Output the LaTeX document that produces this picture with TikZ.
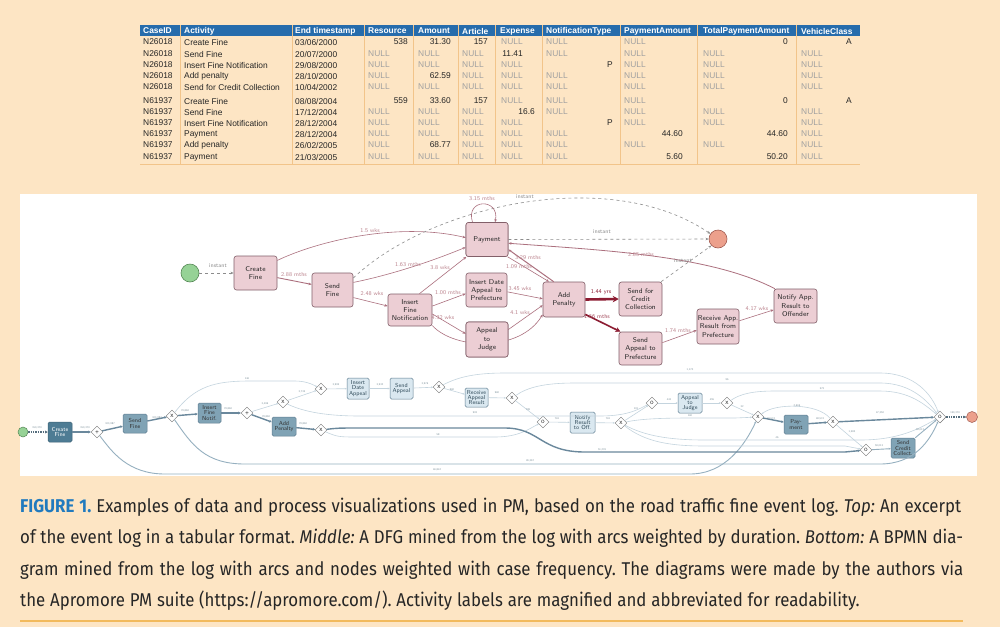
\documentclass[tikz,border=0pt]{standalone}
\usepackage{fontspec}
\usetikzlibrary{arrows.meta,shapes.geometric}
\newfontfamily\tabfont{Liberation Sans}
\newfontfamily\capfont[FakeStretch=0.91]{Fira Sans}
\definecolor{bgc}{RGB}{253,229,196}
\definecolor{hdr}{RGB}{38,108,172}
\definecolor{sepc}{RGB}{242,196,138}
\definecolor{nullc}{RGB}{160,160,160}
\definecolor{dfill}{RGB}{236,206,212}
\definecolor{ddraw}{RGB}{130,95,105}
\definecolor{dedge}{RGB}{172,112,126}
\definecolor{dlab}{RGB}{188,132,142}
\definecolor{dred}{RGB}{140,28,50}
\definecolor{instc}{RGB}{140,140,140}
\definecolor{gfill}{RGB}{150,210,150}
\definecolor{gdraw}{RGB}{85,135,85}
\definecolor{efill}{RGB}{236,160,140}
\definecolor{edraw}{RGB}{160,90,80}
\definecolor{bdark}{RGB}{78,124,148}
\definecolor{bmedc}{RGB}{128,163,181}
\definecolor{blight}{RGB}{218,232,240}
\definecolor{bborder}{RGB}{95,125,145}
\definecolor{bthinc}{RGB}{196,212,222}
\definecolor{bmedl}{RGB}{150,176,192}
\definecolor{bthkc}{RGB}{106,136,156}
\definecolor{blab}{RGB}{125,145,155}
\definecolor{capblue}{RGB}{33,122,190}
\definecolor{capc}{RGB}{38,38,38}
\definecolor{rulec}{RGB}{242,186,92}
\def\nullmark{N}
\newcommand\tcell[4]{\def\tmpc{#4}\ifx\tmpc\nullmark\node[tn,anchor=west] at (#2,#3) {NULL};\else\node[tc,anchor=east] at (#1,#3) {#4};\fi}
\newcommand\trowA[4]{\node[tc,anchor=west] at (143,#1) {#2};\node[tc,anchor=west] at (184,#1) {#3};\node[tc,anchor=west] at (295,#1) {#4};}
\newcommand\trowB[9]{\tcell{408}{368}{#1}{#2}\tcell{451}{418}{#1}{#3}\tcell{488}{462}{#1}{#4}\tcell{535}{501}{#1}{#5}\tcell{613}{546}{#1}{#6}\tcell{683}{624}{#1}{#7}\tcell{788}{703}{#1}{#8}\tcell{852}{801}{#1}{#9}}
\newcommand\capline[2]{\hbox to #1{\frenchspacing\spaceskip=.26em plus .3em minus .09em #2}}
\tikzset{
  tc/.style={font=\tabfont\fontsize{8.4}{9}\selectfont, text=black!85, inner sep=0pt},
  tn/.style={font=\tabfont\fontsize{8.4}{9}\selectfont, text=nullc, inner sep=0pt},
  th/.style={font=\tabfont\bfseries\fontsize{8.4}{9}\selectfont, text=white, inner sep=0pt, anchor=west},
  dn/.style={draw=ddraw, fill=dfill, rounded corners=2.5pt, inner sep=0pt, align=center, font=\sffamily\fontsize{7}{8.4}\selectfont, text=black!85, line width=0.6pt},
  de/.style={draw=dedge, line width=0.6pt, -{Stealth[length=3.2pt,width=2.6pt]}},
  dedash/.style={draw=instc, line width=0.6pt, dashed, -{Stealth[length=3.2pt,width=2.6pt]}},
  dthick/.style={draw=dred, -{Stealth[length=5pt,width=5pt]}},
  dl/.style={font=\sffamily\fontsize{5.8}{6}\selectfont, text=dlab, inner sep=0pt},
  il/.style={font=\sffamily\fontsize{5.8}{6}\selectfont, text=instc, inner sep=0pt},
  bnode/.style={rounded corners=1.5pt, inner sep=0pt, align=center, font=\sffamily\fontsize{5.8}{5.4}\selectfont, line width=0.5pt},
  bdk/.style={bnode, fill=bdark, draw=bdark!80!black, text=white},
  bmd/.style={bnode, fill=bmedc, draw=bborder, text={black!80}},
  blt/.style={bnode, fill=blight, draw=bborder, text={bdark!60!black}},
  gw/.style={diamond, draw=black!55, fill=white, minimum size=12pt, inner sep=0pt, line width=0.45pt, font=\sffamily\fontsize{4.6}{5}\selectfont},
  bthin/.style={draw=bthinc, line width=0.6pt, -{Stealth[length=2pt,width=1.8pt]}},
  bmed/.style={draw=bmedl, line width=0.9pt, -{Stealth[length=2.2pt,width=2pt]}},
  bthk/.style={draw=bthkc, line width=1.4pt, -{Stealth[length=2.6pt,width=2.6pt]}},
  bdot/.style={draw=bthkc!80!black, line width=1.4pt, densely dotted, -{Stealth[length=2.6pt,width=2.6pt]}},
  bl/.style={font=\sffamily\fontsize{2.7}{3}\selectfont, text=blab, inner sep=0pt},
  captxt/.style={font=\capfont\fontsize{18.5}{20}\selectfont, text=capc, inner sep=0pt, anchor=west}
}
\begin{document}
\begin{tikzpicture}[x=1pt,y=-1pt]
\useasboundingbox (0,0) rectangle (1000,627);
\fill[bgc] (0,0) rectangle (1000,627);
% ---------------- table ----------------
\fill[hdr] (140,25) rectangle (860,36);
\foreach \sx in {180,292,364,413,458,495,542,620,697,796} {\draw[sepc, line width=0.6pt] (\sx,25) -- (\sx,164);}
\draw[sepc, line width=0.8pt] (140,164) -- (860,164);
\node[th] at (143,31) {CaseID};
\node[th] at (184,31) {Activity};
\node[th] at (295,31) {End timestamp};
\node[th] at (368,31) {Resource};
\node[th] at (418,31) {Amount};
\node[th] at (462,31) {Article};
\node[th] at (500,31) {Expense};
\node[th] at (546,31) {NotificationType};
\node[th] at (624,31) {PaymentAmount};
\node[th] at (703,31) {TotalPaymentAmount};
\node[th] at (801,31) {VehicleClass};
\trowA{42}{N26018}{Create Fine}{03/06/2000}\trowB{42}{538}{31.30}{157}{N}{N}{N}{0}{A}
\trowA{54}{N26018}{Send Fine}{20/07/2000}\trowB{54}{N}{N}{N}{11.41\kern12pt}{N}{N}{N}{N}
\trowA{65}{N26018}{Insert Fine Notification}{29/08/2000}\trowB{65}{N}{N}{N}{N}{P}{N}{N}{N}
\trowA{76}{N26018}{Add penalty}{28/10/2000}\trowB{76}{N}{62.59}{N}{N}{N}{N}{N}{N}
\trowA{87}{N26018}{Send for Credit Collection}{10/04/2002}\trowB{87}{N}{N}{N}{N}{N}{N}{N}{N}
\trowA{101}{N61937}{Create Fine}{08/08/2004}\trowB{101}{559}{33.60}{157}{N}{N}{N}{0}{A}
\trowA{112}{N61937}{Send Fine}{17/12/2004}\trowB{112}{N}{N}{N}{16.6}{N}{N}{N}{N}
\trowA{123}{N61937}{Insert Fine Notification}{28/12/2004}\trowB{123}{N}{N}{N}{N}{P}{N}{N}{N}
\trowA{134}{N61937}{Payment}{28/12/2004}\trowB{134}{N}{N}{N}{N}{N}{44.60}{44.60}{N}
\trowA{145}{N61937}{Add penalty}{26/02/2005}\trowB{145}{N}{68.77}{N}{N}{N}{N}{N}{N}
\trowA{157}{N61937}{Payment}{21/03/2005}\trowB{157}{N}{N}{N}{N}{N}{5.60}{50.20}{N}
% ---------------- white panel ----------------
\fill[white] (20,194) rectangle (977,476);
% ---------------- DFG ----------------
\node[circle, draw=gdraw, fill=gfill, minimum size=18pt, inner sep=0pt, line width=0.6pt] (dstart) at (190,273) {};
\node[circle, draw=edraw, fill=efill, minimum size=18pt, inner sep=0pt, line width=0.6pt] (dend) at (718,239) {};
\node[dn, minimum width=43pt, minimum height=34pt] (cf) at (255.5,273) {Create\\Fine};
\node[dn, minimum width=41pt, minimum height=34pt] (sf) at (332.5,290) {Send\\Fine};
\node[dn, minimum width=44pt, minimum height=32pt] (ifn) at (410,310) {Insert\\Fine\\Notification};
\node[dn, minimum width=42pt, minimum height=34pt] (pay) at (487,239.5) {Payment};
\node[dn, minimum width=41pt, minimum height=34pt] (ida) at (486.5,290) {Insert Date\\Appeal to\\Prefecture};
\node[dn, minimum width=42pt, minimum height=35pt] (atj) at (487,339.5) {Appeal\\to\\Judge};
\node[dn, minimum width=42pt, minimum height=35pt] (ap) at (564,299.5) {Add\\Penalty};
\node[dn, minimum width=43pt, minimum height=34pt] (scc) at (640.5,299) {Send for\\Credit\\Collection};
\node[dn, minimum width=43pt, minimum height=33pt] (sap) at (640.5,348.5) {Send\\Appeal to\\Prefecture};
\node[dn, minimum width=42pt, minimum height=35pt] (rar) at (718,326.5) {Receive App.\\Result from\\Prefecture};
\node[dn, minimum width=43pt, minimum height=34pt] (nar) at (795.5,306) {Notify App.\\Result to\\Offender};
\draw[dedash] (dstart.east) -- (cf.west);
\draw[de, line width=0.9pt] (cf.-12) -- (sf.165);
\draw[de] (cf.30) .. controls (320,240) and (400,222) .. (pay.175);
\draw[de] (sf.20) .. controls (390,275) and (430,262) .. (pay.200);
\draw[dedash] (sf.30) .. controls (430,205) and (610,165) .. (dend);
\draw[de] (sf.-20) -- (ifn.170);
\draw[de] (ifn.60) -- (pay.220);
\draw[de] (ifn.10) -- (ida.190);
\draw[de] (ifn.-10) -- (atj.165);
\draw[de] (ifn.-35) .. controls (455,350) and (520,352) .. (ap.215);
\draw[de] (atj.25) -- (ap.195);
\draw[de] (ida.-5) -- (ap.178);
\draw[de] (pay.-40) -- (ap.130);
\draw[de, line width=1pt] (ap.120) -- (pay.-25);
\draw[de] (pay.130) .. controls (465,198) and (500,198) .. (pay.65);
\draw[dedash] (pay.east) -- (dend.west);
\draw[dthick, line width=2.6pt, -{Stealth[length=6pt,width=6.5pt]}] (ap.east) -- (scc.west);
\draw[dthick, line width=1.6pt] (ap.-35) -- (sap.140);
\draw[dedash] (scc.40) -- (dend.225);
\draw[de] (sap.15) -- (rar.190);
\draw[de] (rar.15) -- (nar.190);
\draw[de, line width=0.8pt] (nar.140) .. controls (710,255) and (600,250) .. (pay.-10);
% re-draw nodes on top
\node[dn, minimum width=42pt, minimum height=34pt] (pay2) at (pay) {Payment};
\node[dn, minimum width=42pt, minimum height=35pt] (atj2) at (atj) {Appeal\\to\\Judge};
% DFG labels
\node[il] at (218,266) {instant};
\node[dl] at (294,275) {2.88 mths};
\node[dl] at (370,231) {1.5 wks};
\node[dl] at (408,265) {1.63 mths};
\node[il] at (525,197) {instant};
\node[dl] at (482,199) {3.15 mths};
\node[il] at (602,232) {instant};
\node[dl] at (372,294) {2.48 wks};
\node[dl] at (440,268) {3.8 wks};
\node[dl] at (448,293) {1.00 mths};
\node[dl] at (443,318) {4.32 wks};
\node[dl] at (528,258) {3.29 mths};
\node[dl] at (519,267) {1.09 mths};
\node[dl] at (520,289) {3.45 wks};
\node[dl] at (520,313) {4.1 wks};
\node[dl, text=dred] at (601,292) {1.44 yrs};
\node[dl, text=dred!80] at (597,317) {1.66 mths};
\node[il] at (683,261) {instant};
\node[dl] at (641,255) {2.85 mths};
\node[dl] at (678,331) {1.74 mths};
\node[dl] at (757,309) {4.17 wks};
% ---------------- BPMN ----------------
\node[circle, draw=gdraw, fill=gfill, minimum size=10pt, inner sep=0pt, line width=0.5pt] (bs) at (23,432) {};
\node[circle, draw=edraw, fill=efill, minimum size=11pt, inner sep=0pt, line width=0.5pt] (be) at (972,417) {};
\node[bdk, minimum width=24pt, minimum height=20pt] (bcf) at (60,432) {Create\\Fine};
\node[bmd, minimum width=24pt, minimum height=19pt] (bsf) at (135,423.5) {Send\\Fine};
\node[bmd, minimum width=23pt, minimum height=20pt] (bifn) at (209.5,413) {Insert\\Fine\\Notif.};
\node[bmd, minimum width=24pt, minimum height=19pt] (bap) at (284,426.5) {Add\\Penalty};
\node[blt, minimum width=22pt, minimum height=21pt] (bida) at (358,388.5) {Insert\\Date\\Appeal};
\node[blt, minimum width=23pt, minimum height=21pt] (bsa) at (401.5,388.5) {Send\\Appeal};
\node[blt, minimum width=23pt, minimum height=19pt] (brar) at (476.5,397.5) {Receive\\Appeal\\Result};
\node[blt, minimum width=25pt, minimum height=21pt] (bnr) at (582.5,422.5) {Notify\\Result\\to Off.};
\node[blt, minimum width=24pt, minimum height=20pt] (baj) at (690,403) {Appeal\\to\\Judge};
\node[bmd, minimum width=24pt, minimum height=19pt] (bpay) at (796,424.5) {Pay-\\ment};
\node[bmd, minimum width=24pt, minimum height=20pt] (bscc) at (903,448) {Send\\Credit\\Collect.};
\node[gw] (g1) at (97,432) {\textbf{+}};
\node[gw] (g2) at (172,416) {X};
\node[gw] (g3) at (247,413) {\textbf{+}};
\node[gw] (g4) at (283,402) {X};
\node[gw] (g5) at (321,389) {X};
\node[gw] (g6) at (321,430) {X};
\node[gw] (g7) at (439,387) {X};
\node[gw] (g8) at (512,398) {X};
\node[gw] (g9) at (543,422) {O};
\node[gw] (g10) at (621,423) {X};
\node[gw] (g11) at (652,403) {O};
\node[gw] (g12) at (727,403) {X};
\node[gw] (g13) at (758,417) {X};
\node[gw] (g14) at (833,422) {X};
\node[gw] (g15) at (866,450) {O};
\node[gw] (g16) at (940,417) {O};
\draw[bdot] (bs) -- (bcf);
\draw[bthk] (bcf) -- (g1);
\draw[bthk] (g1) -- (bsf);
\draw[bmed] (g1) .. controls (112,452) and (128,474) .. (165,474) -- (690,474) .. controls (725,474) and (745,445) .. (g13);
\draw[bthk] (bsf) -- (g2);
\draw[bthk] (g2) -- (bifn);
\draw[bthin] (g2) .. controls (195,386) and (215,381) .. (250,381) -- (295,381) .. controls (305,381) and (312,384) .. (g5);
\draw[bmed] (g2) .. controls (192,445) and (205,464) .. (245,464) -- (880,464) .. controls (915,464) and (930,440) .. (g16);
\draw[bthk] (bifn) -- (g3);
\draw[bthin] (g3) -- (g4);
\draw[bthk] (g3) -- (bap);
\draw[bthin] (g4) -- (g5);
\draw[bthin] (g4) .. controls (300,410) and (320,416) .. (360,416) -- (600,416) .. controls (630,416) and (640,408) .. (g11);
\draw[bthin] (g5) -- (bida);
\draw[bthin] (bida) -- (bsa);
\draw[bthin] (bsa) -- (g7);
\draw[bthin] (g7) .. controls (458,377) and (475,373) .. (505,373) -- (880,373) .. controls (915,373) and (932,395) .. (g16);
\draw[bthin] (g7) -- (brar);
\draw[bthin] (brar) -- (g8);
\draw[bthin] (g8) .. controls (528,387) and (545,383) .. (575,383) -- (880,383) .. controls (912,383) and (928,402) .. (g16);
\draw[bthin] (g8) -- (g9);
\draw[bthk] (bap) -- (g6);
\draw[bthin] (g6) .. controls (338,437) .. (360,437) -- (495,437) .. controls (520,437) and (530,428) .. (g9);
\draw[bthk] (g6) .. controls (338,428) .. (360,428) -- (505,428) .. controls (540,428) and (540,452) .. (585,452) -- (845,452) -- (g15);
\draw[bthin] (g9) -- (bnr);
\draw[bthin] (bnr) -- (g10);
\draw[bthin] (g10) -- (g11);
\draw[bthin] (g11) -- (baj);
\draw[bthin] (baj) -- (g12);
\draw[bthin] (g12) -- (g13);
\draw[bthin] (g12) .. controls (740,394) and (752,391) .. (775,391) -- (880,391) .. controls (910,391) and (925,405) .. (g16);
\draw[bthin] (g10) .. controls (640,419) and (660,418) .. (690,418) -- (735,418) -- (g13);
\draw[bthin] (g10) .. controls (645,436) and (670,440) .. (705,440) -- (860,440) .. controls (900,440) and (920,428) .. (g16);
\draw[bthin] (g10) .. controls (645,442) and (670,446) .. (705,446) -- (845,446) -- (g15);
\draw[bthk] (g13) -- (bpay);
\draw[bthk] (bpay) -- (g14);
\draw[bthk] (g14) -- (g16);
\draw[bthin] (g14) -- (g15);
\draw[bthin] (g14) .. controls (818,403) and (775,403) .. (g13);
\draw[bmed] (g15) -- (bscc);
\draw[bmed] (bscc) -- (g16);
\draw[bdot] (g16) -- (be);
% BPMN labels
\node[bl] at (37,428) {150,370};
\node[bl] at (85,428) {150,370};
\node[bl] at (110,424) {103,987};
\node[bl] at (157,418) {103,987};
\node[bl] at (185,411) {79,860};
\node[bl] at (247,379) {146};
\node[bl] at (228,409) {79,860};
\node[bl] at (265,404) {3,496};
\node[bl] at (266,417) {79,860};
\node[bl] at (302,392) {3,735};
\node[bl] at (303,424) {79,860};
\node[bl] at (336,385) {3,995};
\node[bl] at (380,385) {3,932};
\node[bl] at (425,384) {3,976};
\node[bl] at (452,390) {960};
\node[bl] at (497,393) {960};
\node[bl] at (690,370) {1,170};
\node[bl] at (727,380) {96};
\node[bl] at (822,389) {573};
\node[bl] at (528,410) {799};
\node[bl] at (438,435) {58};
\node[bl] at (475,413) {903};
\node[bl] at (602,450) {51,276};
\node[bl] at (530,461) {26,367};
\node[bl] at (437,470) {46,842};
\node[bl] at (557,419) {761};
\node[bl] at (608,419) {761};
\node[bl] at (636,409) {101};
\node[bl] at (669,400) {443};
\node[bl] at (712,400) {455};
\node[bl] at (742,407) {32};
\node[bl] at (690,416) {160};
\node[bl] at (777,438) {46};
\node[bl] at (771,419) {49,574};
\node[bl] at (820,419) {48,574};
\node[bl] at (797,406) {2,666};
\node[bl] at (880,413) {47,350};
\node[bl] at (852,432) {1,583};
\node[bl] at (879,446) {59,013};
\node[bl] at (920,430) {59,013};
\node[bl] at (955,413) {150,370};
% ---------------- caption ----------------
\node[captxt] (c1) at (20,507) {\capline{941pt}{{\bfseries\color{capblue}FIGURE 1.} Examples of data and process visualizations used in PM, based on the road traffic fine event log. \textit{Top:} An excerpt}};
\node[captxt] (c2) at (20,538) {\capline{943pt}{of the event log in a tabular format. \textit{Middle:} A DFG mined from the log with arcs weighted by duration. \textit{Bottom:} A BPMN dia-}};
\node[captxt] (c3) at (20,570) {\capline{943pt}{gram mined from the log with arcs and nodes weighted with case frequency. The diagrams were made by the authors via}};
\node[captxt] (c4) at (20,601) {\frenchspacing\spaceskip=.26em plus .3em minus .09em the Apromore PM suite (https://apromore.com/). Activity labels are magnified and abbreviated for readability.};
\draw[rulec, line width=1.3pt] (20,621) -- (963,621);
\end{tikzpicture}
\end{document}
